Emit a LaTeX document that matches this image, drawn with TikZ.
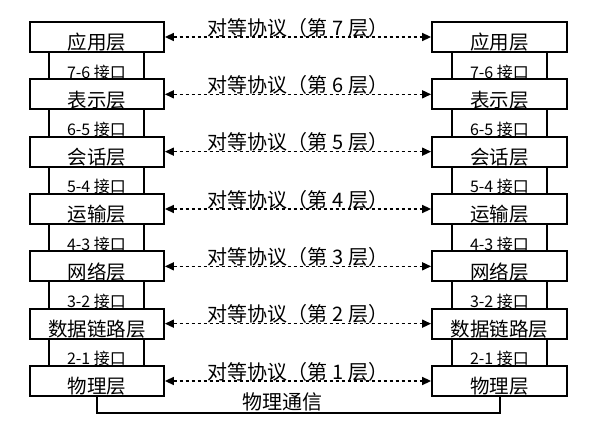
\documentclass[tikz,border=0pt]{standalone}
\usepackage{fontspec}
\setmainfont{Noto Sans CJK SC}
\usetikzlibrary{arrows.meta}
\begin{document}
\begin{tikzpicture}[x=1pt,y=-1pt,
  layer/.style={draw, line width=1.8pt, fill=white, minimum width=134pt, minimum height=30pt, inner sep=0pt},
  iface/.style={draw, line width=1.2pt, fill=white, minimum width=95pt, minimum height=31pt, inner sep=0pt},
  ltext/.style={font=\fontsize{19.5}{19.5}\selectfont, inner sep=0pt},
  itext/.style={font=\fontsize{16}{16}\selectfont, inner sep=0pt},
  ptext/.style={font=\fontsize{20}{20}\selectfont, inner sep=0pt},
  peer/.style={line width=1.5pt, dash pattern=on 3pt off 3pt, {Triangle[length=9pt,width=8pt]}-{Triangle[length=9pt,width=8pt]}},
  physline/.style={line width=2pt}
  ]
\useasboundingbox (0,0) rectangle (605,430);
% interfaces (behind layers)
\foreach \i in {7,...,2}{
  \pgfmathsetmacro\yy{37+(7-\i)*57.333+28.67}
  \pgfmathtruncatemacro\j{\i-1}
  \node[iface, label={[itext, yshift=-6.5pt, name=LIt\i]center:\i-\j\ 接口}] (LI\i) at (96.5,\yy) {};
  \node[iface, label={[itext, yshift=-6.5pt, name=RIt\i]center:\i-\j\ 接口}] (RI\i) at (499.5,\yy) {};
}
% layers
\foreach \i/\n in {7/应用层,6/表示层,5/会话层,4/运输层,3/网络层,2/数据链路层,1/物理层}{
  \pgfmathsetmacro\yy{37+(7-\i)*57.333}
  \node[layer, label={[ltext, yshift=-5.5pt, name=Lt\i]center:\n}] (L\i) at (97,\yy) {};
  \node[layer, minimum width=135pt, label={[ltext, yshift=-5.5pt, name=Rt\i]center:\n}] (R\i) at (499.5,\yy) {};
  \draw[peer] (L\i) -- (R\i) node[ptext, midway, yshift=9.5pt] (P\i) {对等协议（第 \i\ 层）};
}
\draw[physline] (L1.south) -- ++(0,16) -| (R1.south);
\node[ptext] (phys) at (282,402) {物理通信};
\end{tikzpicture}
\end{document}
